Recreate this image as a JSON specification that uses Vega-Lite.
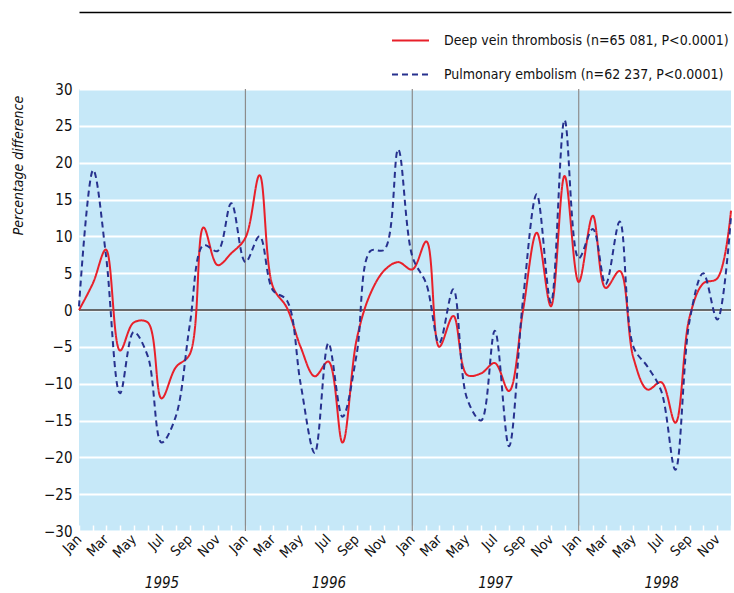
{
  "$schema": "https://vega.github.io/schema/vega-lite/v6.json",
  "width": 652,
  "height": 442,
  "autosize": {"type": "none"},
  "padding": {"left": 79, "top": 89, "right": 3, "bottom": 62},
  "background": "white",
  "config": {
    "view": {"stroke": null, "fill": "#C6E8F8"},
    "font": "DejaVu Sans Condensed, sans-serif",
    "axis": {"labelFont": "DejaVu Sans Condensed, sans-serif", "titleFont": "DejaVu Sans Condensed, sans-serif", "labelColor": "#111", "titleColor": "#111"},
    "legend": {"labelFont": "DejaVu Sans Condensed, sans-serif"}
  },
  "datasets": {
    "series": [
      {"date": "1995-01-01", "series": "Deep vein thrombosis (n=65 081, P<0.0001)", "value": 0},
      {"date": "1995-02-01", "series": "Deep vein thrombosis (n=65 081, P<0.0001)", "value": 3.7},
      {"date": "1995-03-01", "series": "Deep vein thrombosis (n=65 081, P<0.0001)", "value": 8.2},
      {"date": "1995-04-01", "series": "Deep vein thrombosis (n=65 081, P<0.0001)", "value": -5.5},
      {"date": "1995-05-01", "series": "Deep vein thrombosis (n=65 081, P<0.0001)", "value": -1.7},
      {"date": "1995-06-01", "series": "Deep vein thrombosis (n=65 081, P<0.0001)", "value": -1.7},
      {"date": "1995-07-01", "series": "Deep vein thrombosis (n=65 081, P<0.0001)", "value": -12},
      {"date": "1995-08-01", "series": "Deep vein thrombosis (n=65 081, P<0.0001)", "value": -7.8},
      {"date": "1995-09-01", "series": "Deep vein thrombosis (n=65 081, P<0.0001)", "value": -6},
      {"date": "1995-10-01", "series": "Deep vein thrombosis (n=65 081, P<0.0001)", "value": 11.2},
      {"date": "1995-11-01", "series": "Deep vein thrombosis (n=65 081, P<0.0001)", "value": 6.1},
      {"date": "1995-12-01", "series": "Deep vein thrombosis (n=65 081, P<0.0001)", "value": 7.7},
      {"date": "1996-01-01", "series": "Deep vein thrombosis (n=65 081, P<0.0001)", "value": 9.8},
      {"date": "1996-02-01", "series": "Deep vein thrombosis (n=65 081, P<0.0001)", "value": 18.3},
      {"date": "1996-03-01", "series": "Deep vein thrombosis (n=65 081, P<0.0001)", "value": 3.2},
      {"date": "1996-04-01", "series": "Deep vein thrombosis (n=65 081, P<0.0001)", "value": 0.3},
      {"date": "1996-05-01", "series": "Deep vein thrombosis (n=65 081, P<0.0001)", "value": -5},
      {"date": "1996-06-01", "series": "Deep vein thrombosis (n=65 081, P<0.0001)", "value": -9},
      {"date": "1996-07-01", "series": "Deep vein thrombosis (n=65 081, P<0.0001)", "value": -7},
      {"date": "1996-08-01", "series": "Deep vein thrombosis (n=65 081, P<0.0001)", "value": -18},
      {"date": "1996-09-01", "series": "Deep vein thrombosis (n=65 081, P<0.0001)", "value": -4},
      {"date": "1996-10-01", "series": "Deep vein thrombosis (n=65 081, P<0.0001)", "value": 2.2},
      {"date": "1996-11-01", "series": "Deep vein thrombosis (n=65 081, P<0.0001)", "value": 5.4},
      {"date": "1996-12-01", "series": "Deep vein thrombosis (n=65 081, P<0.0001)", "value": 6.5},
      {"date": "1997-01-01", "series": "Deep vein thrombosis (n=65 081, P<0.0001)", "value": 5.5},
      {"date": "1997-02-01", "series": "Deep vein thrombosis (n=65 081, P<0.0001)", "value": 9.3},
      {"date": "1997-03-01", "series": "Deep vein thrombosis (n=65 081, P<0.0001)", "value": -5},
      {"date": "1997-04-01", "series": "Deep vein thrombosis (n=65 081, P<0.0001)", "value": -0.8},
      {"date": "1997-05-01", "series": "Deep vein thrombosis (n=65 081, P<0.0001)", "value": -8.8},
      {"date": "1997-06-01", "series": "Deep vein thrombosis (n=65 081, P<0.0001)", "value": -8.6},
      {"date": "1997-07-01", "series": "Deep vein thrombosis (n=65 081, P<0.0001)", "value": -7.2},
      {"date": "1997-08-01", "series": "Deep vein thrombosis (n=65 081, P<0.0001)", "value": -11},
      {"date": "1997-09-01", "series": "Deep vein thrombosis (n=65 081, P<0.0001)", "value": 0},
      {"date": "1997-10-01", "series": "Deep vein thrombosis (n=65 081, P<0.0001)", "value": 10.5},
      {"date": "1997-11-01", "series": "Deep vein thrombosis (n=65 081, P<0.0001)", "value": 0.5},
      {"date": "1997-12-01", "series": "Deep vein thrombosis (n=65 081, P<0.0001)", "value": 18.2},
      {"date": "1998-01-01", "series": "Deep vein thrombosis (n=65 081, P<0.0001)", "value": 3.8},
      {"date": "1998-02-01", "series": "Deep vein thrombosis (n=65 081, P<0.0001)", "value": 12.8},
      {"date": "1998-03-01", "series": "Deep vein thrombosis (n=65 081, P<0.0001)", "value": 3},
      {"date": "1998-04-01", "series": "Deep vein thrombosis (n=65 081, P<0.0001)", "value": 5.3},
      {"date": "1998-05-01", "series": "Deep vein thrombosis (n=65 081, P<0.0001)", "value": -6.5},
      {"date": "1998-06-01", "series": "Deep vein thrombosis (n=65 081, P<0.0001)", "value": -10.8},
      {"date": "1998-07-01", "series": "Deep vein thrombosis (n=65 081, P<0.0001)", "value": -9.8},
      {"date": "1998-08-01", "series": "Deep vein thrombosis (n=65 081, P<0.0001)", "value": -15.3},
      {"date": "1998-09-01", "series": "Deep vein thrombosis (n=65 081, P<0.0001)", "value": -1},
      {"date": "1998-10-01", "series": "Deep vein thrombosis (n=65 081, P<0.0001)", "value": 3.6},
      {"date": "1998-11-01", "series": "Deep vein thrombosis (n=65 081, P<0.0001)", "value": 4.3},
      {"date": "1998-12-01", "series": "Deep vein thrombosis (n=65 081, P<0.0001)", "value": 13.5},
      {"date": "1995-01-01", "series": "Pulmonary embolism (n=62 237, P<0.0001)", "value": 0.5},
      {"date": "1995-02-01", "series": "Pulmonary embolism (n=62 237, P<0.0001)", "value": 19},
      {"date": "1995-03-01", "series": "Pulmonary embolism (n=62 237, P<0.0001)", "value": 7.5},
      {"date": "1995-04-01", "series": "Pulmonary embolism (n=62 237, P<0.0001)", "value": -11.3},
      {"date": "1995-05-01", "series": "Pulmonary embolism (n=62 237, P<0.0001)", "value": -3},
      {"date": "1995-06-01", "series": "Pulmonary embolism (n=62 237, P<0.0001)", "value": -6.3},
      {"date": "1995-07-01", "series": "Pulmonary embolism (n=62 237, P<0.0001)", "value": -18},
      {"date": "1995-08-01", "series": "Pulmonary embolism (n=62 237, P<0.0001)", "value": -14.5},
      {"date": "1995-09-01", "series": "Pulmonary embolism (n=62 237, P<0.0001)", "value": -2},
      {"date": "1995-10-01", "series": "Pulmonary embolism (n=62 237, P<0.0001)", "value": 8.8},
      {"date": "1995-11-01", "series": "Pulmonary embolism (n=62 237, P<0.0001)", "value": 8},
      {"date": "1995-12-01", "series": "Pulmonary embolism (n=62 237, P<0.0001)", "value": 14.5},
      {"date": "1996-01-01", "series": "Pulmonary embolism (n=62 237, P<0.0001)", "value": 6.5},
      {"date": "1996-02-01", "series": "Pulmonary embolism (n=62 237, P<0.0001)", "value": 10},
      {"date": "1996-03-01", "series": "Pulmonary embolism (n=62 237, P<0.0001)", "value": 2.7},
      {"date": "1996-04-01", "series": "Pulmonary embolism (n=62 237, P<0.0001)", "value": 1.3},
      {"date": "1996-05-01", "series": "Pulmonary embolism (n=62 237, P<0.0001)", "value": -10},
      {"date": "1996-06-01", "series": "Pulmonary embolism (n=62 237, P<0.0001)", "value": -19.4},
      {"date": "1996-07-01", "series": "Pulmonary embolism (n=62 237, P<0.0001)", "value": -4.5},
      {"date": "1996-08-01", "series": "Pulmonary embolism (n=62 237, P<0.0001)", "value": -14.5},
      {"date": "1996-09-01", "series": "Pulmonary embolism (n=62 237, P<0.0001)", "value": -6},
      {"date": "1996-10-01", "series": "Pulmonary embolism (n=62 237, P<0.0001)", "value": 8},
      {"date": "1996-11-01", "series": "Pulmonary embolism (n=62 237, P<0.0001)", "value": 8.2},
      {"date": "1996-12-01", "series": "Pulmonary embolism (n=62 237, P<0.0001)", "value": 21.8},
      {"date": "1997-01-01", "series": "Pulmonary embolism (n=62 237, P<0.0001)", "value": 7.3},
      {"date": "1997-02-01", "series": "Pulmonary embolism (n=62 237, P<0.0001)", "value": 3.5},
      {"date": "1997-03-01", "series": "Pulmonary embolism (n=62 237, P<0.0001)", "value": -4.5},
      {"date": "1997-04-01", "series": "Pulmonary embolism (n=62 237, P<0.0001)", "value": 2.8},
      {"date": "1997-05-01", "series": "Pulmonary embolism (n=62 237, P<0.0001)", "value": -12},
      {"date": "1997-06-01", "series": "Pulmonary embolism (n=62 237, P<0.0001)", "value": -15},
      {"date": "1997-07-01", "series": "Pulmonary embolism (n=62 237, P<0.0001)", "value": -2.8},
      {"date": "1997-08-01", "series": "Pulmonary embolism (n=62 237, P<0.0001)", "value": -18.5},
      {"date": "1997-09-01", "series": "Pulmonary embolism (n=62 237, P<0.0001)", "value": 1.5},
      {"date": "1997-10-01", "series": "Pulmonary embolism (n=62 237, P<0.0001)", "value": 15.7},
      {"date": "1997-11-01", "series": "Pulmonary embolism (n=62 237, P<0.0001)", "value": 1},
      {"date": "1997-12-01", "series": "Pulmonary embolism (n=62 237, P<0.0001)", "value": 25.8},
      {"date": "1998-01-01", "series": "Pulmonary embolism (n=62 237, P<0.0001)", "value": 7},
      {"date": "1998-02-01", "series": "Pulmonary embolism (n=62 237, P<0.0001)", "value": 11},
      {"date": "1998-03-01", "series": "Pulmonary embolism (n=62 237, P<0.0001)", "value": 3.5},
      {"date": "1998-04-01", "series": "Pulmonary embolism (n=62 237, P<0.0001)", "value": 12},
      {"date": "1998-05-01", "series": "Pulmonary embolism (n=62 237, P<0.0001)", "value": -5},
      {"date": "1998-06-01", "series": "Pulmonary embolism (n=62 237, P<0.0001)", "value": -7.7},
      {"date": "1998-07-01", "series": "Pulmonary embolism (n=62 237, P<0.0001)", "value": -11},
      {"date": "1998-08-01", "series": "Pulmonary embolism (n=62 237, P<0.0001)", "value": -21.7},
      {"date": "1998-09-01", "series": "Pulmonary embolism (n=62 237, P<0.0001)", "value": -1.5},
      {"date": "1998-10-01", "series": "Pulmonary embolism (n=62 237, P<0.0001)", "value": 5},
      {"date": "1998-11-01", "series": "Pulmonary embolism (n=62 237, P<0.0001)", "value": -1.3},
      {"date": "1998-12-01", "series": "Pulmonary embolism (n=62 237, P<0.0001)", "value": 12.7}
    ],
    "years": [
      {"date": "1996-01-01"},
      {"date": "1997-01-01"},
      {"date": "1998-01-01"}
    ],
    "zero": [
      {"from": "1995-01-01", "to": "1998-12-01", "value": 0}
    ]
  },
  "resolve": {"axis": {"x": "independent", "y": "independent"}},
  "layer": [
    {
      "data": {"name": "years"},
      "mark": {"type": "rule", "color": "#8C8C8C", "strokeWidth": 1.2},
      "encoding": {
        "x": {
          "field": "date", "type": "temporal",
          "scale": {"type": "utc", "domain": [{"year": 1995, "month": 1, "date": 1, "utc": true}, {"year": 1998, "month": 12, "date": 1, "utc": true}]},
          "axis": {
            "orient": "bottom", "title": null, "grid": false, "ticks": false, "domain": false,
            "values": [{"year": 1995, "month": 7, "date": 1, "utc": true}, {"year": 1996, "month": 7, "date": 1, "utc": true}, {"year": 1997, "month": 7, "date": 1, "utc": true}, {"year": 1998, "month": 7, "date": 1, "utc": true}],
            "labelExpr": "utcFormat(datum.value, '%Y')",
            "labelFontStyle": "italic", "labelFontSize": 15, "labelAngle": 0, "labelPadding": 44, "labelFlush": false, "labelOverlap": false
          }
        }
      }
    },
    {
      "data": {"name": "zero"},
      "mark": {"type": "rule", "color": "#3A3A3A", "strokeWidth": 1.6},
      "encoding": {
        "x": {
          "field": "from", "type": "temporal",
          "axis": {"orient": "top", "offset": 77, "title": null, "grid": false, "ticks": false, "labels": false, "domain": true, "domainColor": "#000000", "domainWidth": 1.5}
        },
        "x2": {"field": "to"},
        "y": {"field": "value", "type": "quantitative", "axis": null}
      }
    },
    {
      "data": {"name": "series"},
      "mark": {"type": "line", "interpolate": "catmull-rom", "strokeWidth": 2},
      "encoding": {
        "x": {
          "field": "date", "type": "temporal",
          "axis": {
            "orient": "bottom", "title": null, "grid": false, "domain": false,
            "ticks": true, "tickColor": "white", "tickSize": -6, "tickWidth": 1.5,
            "tickCount": {"interval": "month", "step": 1},
            "labelExpr": "utcmonth(datum.value) % 2 == 0 ? utcFormat(datum.value, '%b') : ''",
            "labelAngle": -45, "labelAlign": "right", "labelBaseline": "middle",
            "labelFontSize": 14, "labelPadding": 12, "labelFlush": false, "labelOverlap": false
          }
        },
        "y": {
          "field": "value", "type": "quantitative",
          "scale": {"domain": [-30, 30], "nice": false, "zero": false},
          "axis": {
            "title": "Percentage difference", "titleFontStyle": "italic", "titleFontWeight": "normal", "titleFontSize": 14,
            "titleAngle": -90, "titleX": -61, "titleY": 76, "titleAlign": "center", "titleBaseline": "middle",
            "values": [-30, -25, -20, -15, -10, -5, 0, 5, 10, 15, 20, 25, 30],
            "grid": true, "gridColor": "white", "gridWidth": 2, "gridOpacity": 1, "labelOverlap": false,
            "ticks": false, "domain": false, "labelFontSize": 15, "labelPadding": 7
          }
        },
        "color": {
          "field": "series", "type": "nominal",
          "scale": {"domain": ["Deep vein thrombosis (n=65 081, P<0.0001)", "Pulmonary embolism (n=62 237, P<0.0001)"], "range": ["#E8202A", "#27318E"]},
          "legend": {"title": null, "orient": "none", "legendX": 312, "legendY": -68, "symbolType": "stroke", "symbolSize": 1369, "symbolStrokeWidth": 2, "labelFontSize": 14, "labelColor": "#111", "labelOffset": 14, "rowPadding": 7, "labelLimit": 400}
        },
        "strokeDash": {
          "field": "series", "type": "nominal",
          "scale": {"domain": ["Deep vein thrombosis (n=65 081, P<0.0001)", "Pulmonary embolism (n=62 237, P<0.0001)"], "range": [[1, 0], [6, 4]]},
          "legend": {"title": null, "orient": "none", "legendX": 312, "legendY": -68, "symbolType": "stroke", "symbolSize": 1369, "symbolStrokeWidth": 2, "labelFontSize": 14, "labelColor": "#111", "labelOffset": 14, "rowPadding": 7, "labelLimit": 400}
        }
      }
    }
  ]
}
